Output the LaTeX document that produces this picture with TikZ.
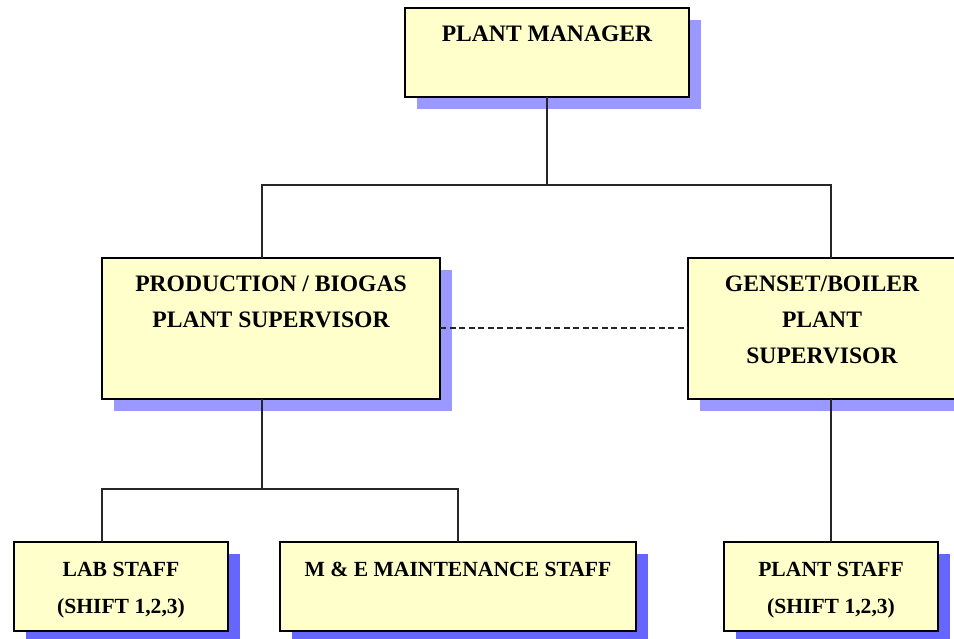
\documentclass[tikz,border=0pt]{standalone}
\usepackage{fontspec}
\setmainfont{Liberation Serif}
\usetikzlibrary{shadows}
\definecolor{boxfill}{HTML}{FFFFCC}
\definecolor{shadowlight}{HTML}{9999FF}
\definecolor{shadowdark}{HTML}{6666FF}
\tikzset{
  orgbox/.style={draw=black, line width=1.2pt, fill=boxfill, rectangle, inner sep=0pt, outer sep=0pt, anchor=north west},
  lightshadow/.style={drop shadow={shadow xshift=12pt, shadow yshift=-12pt, fill=shadowlight, opacity=1}},
  darkshadow/.style={drop shadow={shadow xshift=12pt, shadow yshift=-12pt, fill=shadowdark, opacity=1}},
  toplabel/.style={align=center, anchor=base, inner sep=0pt, font=\bfseries\fontsize{23.6}{36}\selectfont},
  botlabel/.style={align=center, anchor=base, inner sep=0pt, font=\bfseries\fontsize{21.6}{37}\selectfont},
  link/.style={draw=black!85, line width=1.4pt},
  peerlink/.style={draw=black!85, line width=2pt, dash pattern=on 6pt off 3.5pt}
}
\begin{document}
\begin{tikzpicture}[x=1pt, y=-1pt]
\useasboundingbox (0,0) rectangle (954,639);
% boxes
\node[orgbox, lightshadow, minimum width=284pt, minimum height=89pt] (mgr) at (405,8) {};
\node[orgbox, lightshadow, minimum width=338pt, minimum height=141pt] (prod) at (102,258) {};
\node[orgbox, lightshadow, minimum width=268pt, minimum height=141pt] (gen) at (688,258) {};
\node[orgbox, darkshadow, minimum width=214pt, minimum height=89pt] (lab) at (14,542) {};
\node[orgbox, darkshadow, minimum width=356pt, minimum height=89pt] (me) at (280,542) {};
\node[orgbox, darkshadow, minimum width=214pt, minimum height=89pt] (plant) at (724,542) {};
% labels
\node[toplabel] (mgrT) at (547,41.8) {PLANT MANAGER};
\node[toplabel] (prodT) at (271,328) {PRODUCTION / BIOGAS\\PLANT SUPERVISOR};
\node[toplabel] (genT) at (822,363) {GENSET/BOILER\\PLANT\\SUPERVISOR};
\node[botlabel] (labT) at (121,613) {LAB STAFF\\(SHIFT 1,2,3)};
\node[botlabel] (meT) at (458,576) {M \& E MAINTENANCE STAFF};
\node[botlabel] (plantT) at (831,613) {PLANT STAFF\\(SHIFT 1,2,3)};
% connector points
\coordinate (bus1) at (547,185);
\coordinate (prodtop) at (262,258);
\coordinate (gentop) at (831,258);
\coordinate (prodbot) at (262,399);
\coordinate (bus2) at (262,489);
\coordinate (labtop) at (102,542);
\coordinate (metop) at (458,542);
\coordinate (genbot) at (831,399);
% connectors
\draw[link] (mgr.south) -- (bus1);
\draw[link] (prodtop) |- (bus1) -| (gentop);
\draw[link] (prodbot) -- (bus2);
\draw[link] (labtop) |- (bus2) -| (metop);
\draw[link] (genbot) -- (plant.north);
\draw[peerlink] (prod.east) -- (gen.west);
\end{tikzpicture}
\end{document}
